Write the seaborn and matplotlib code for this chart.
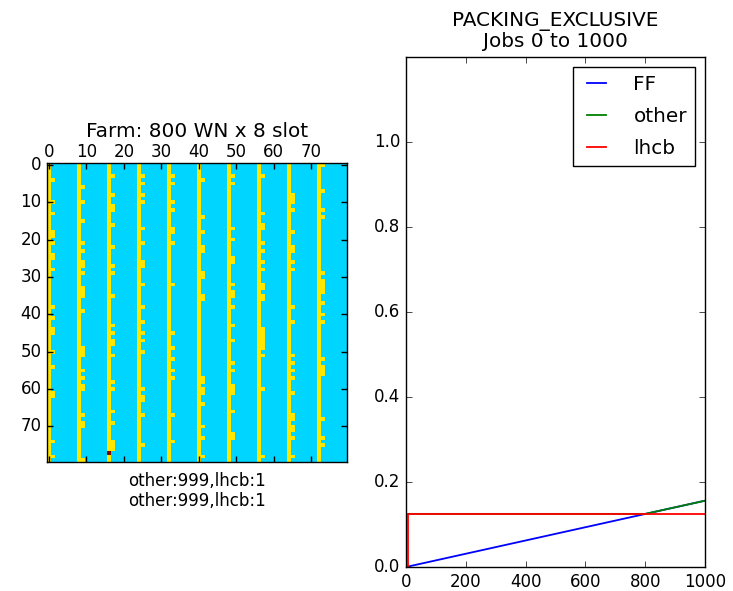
import numpy as np
import pandas as pd
import matplotlib
matplotlib.use("Agg")
import matplotlib.pyplot as plt
import seaborn as sns

# ---------------- data ----------------
n_rows = 80                 # image rows (10 worker nodes per row)
nodes_per_row = 10
slots_per_wn = 8
# codes: 1 = empty slot, 2 = "other" job, 3 = "lhcb" job
EMPTY, OTHER, LHCB = 1, 2, 3

# rows in which the 2nd slot of each node column (0..9) is used by an "other" job
second_slot_rows = [
    [4, 10, 13, 18, 19, 21, 24, 25, 28, 38, 41, 44, 45, 50, 54, 61, 62, 74, 78],
    [6, 10, 15, 21, 23, 26, 27, 29, 33, 34, 35, 39, 49, 50, 51, 55, 57, 59, 60, 67, 69, 70, 79],
    [3, 8, 11, 12, 16, 22, 27, 29, 35, 43, 45, 47, 48, 51, 58, 60, 66, 69, 74, 75, 76],
    [3, 5, 8, 10, 17, 21, 26, 27, 32, 38, 42, 45, 47, 50, 60, 62, 63, 67, 75],
    [3, 5, 10, 12, 17, 18, 21, 32, 45, 49, 52, 55, 57, 67, 74],
    [4, 14, 18, 22, 23, 29, 30, 35, 36, 57, 58, 60, 61, 64, 70, 73, 78],
    [3, 5, 17, 20, 25, 26, 32, 34, 35, 38, 43, 47, 53, 55, 59, 60, 61, 66, 72, 73],
    [3, 13, 16, 17, 21, 23, 26, 28, 32, 33, 35, 36, 44, 45, 46, 47, 48, 49, 51, 60, 78],
    [8, 9, 10, 12, 18, 22, 23, 26, 28, 38, 42, 51, 53, 55, 57, 61, 67, 68, 70, 71, 73, 78],
    [0, 7, 12, 14, 29, 31, 32, 33, 34, 37, 40, 42, 52, 54, 55, 56, 68, 73, 75],
]
lhcb_row, lhcb_col = 77, 16

farm_title = "Farm: 800 WN x 8 slot"
farm_label = "other:999,lhcb:1\nother:999,lhcb:1"
mat_ticks = [0, 10, 20, 30, 40, 50, 60, 70]

# occupancy curves
ff_jobs = [0, 1000]
ff_frac = [0.0, 0.156]
other_jobs = [7, 800, 1000]
other_frac = [0.125, 0.125, 0.156]
lhcb_jobs = [0, 7, 7, 1000]
lhcb_frac = [0.0, 0.0, 0.125, 0.125]

plot_title = "PACKING_EXCLUSIVE\nJobs 0 to 1000"
x_ticks = [0, 200, 400, 600, 800, 1000]
y_ticks = [0.0, 0.2, 0.4, 0.6, 0.8, 1.0]

# ---------------- build matrix ----------------
n_cols = nodes_per_row * slots_per_wn
mat = np.full((n_rows, n_cols), EMPTY, dtype=float)
for g in range(nodes_per_row):
    mat[:, g * slots_per_wn] = OTHER
    for r in second_slot_rows[g]:
        mat[r, g * slots_per_wn + 1] = OTHER
mat[lhcb_row, lhcb_col] = LHCB

# ---------------- style ----------------
plt.style.use("classic")
plt.rcParams.update({
    "figure.facecolor": "white",
    "savefig.facecolor": "white",
    "font.family": ["DejaVu Sans"],
    "font.size": 12,
    "axes.titlesize": "large",
    "legend.fontsize": "large",
})

fig = plt.figure(figsize=(7.33, 5.91), dpi=100)

# ---------------- left: farm matrix ----------------
ax1 = fig.add_axes([47 / 733, 1 - 462 / 591, 300 / 733, 299 / 591])
sns.heatmap(pd.DataFrame(mat), ax=ax1, cmap="jet", vmin=0, vmax=3,
            cbar=False, xticklabels=False, yticklabels=False)
for sp in ax1.spines.values():
    sp.set_visible(True)
    sp.set_color("black")
    sp.set_linewidth(1.0)
ax1.set_xlim(0, n_cols)
ax1.set_ylim(n_rows, 0)
ax1.xaxis.tick_top()
ax1.xaxis.set_ticks_position("both")
ax1.yaxis.set_ticks_position("both")
ax1.set_xticks(np.array(mat_ticks) + 0.5)
ax1.set_xticklabels([str(t) for t in mat_ticks], rotation=0)
ax1.set_yticks(np.array(mat_ticks) + 0.5)
ax1.set_yticklabels([str(t) for t in mat_ticks], rotation=0)
ax1.tick_params(axis="both", direction="in", length=4, width=1, labelsize=12,
                top=True, bottom=True, left=True, right=True,
                labeltop=True, labelbottom=False, labelleft=True, labelright=False)
ax1.tick_params(axis="x", pad=1.5)
ax1.set_title(farm_title, fontsize=14.4, y=1.0, pad=18.5)
ax1.xaxis.set_label_position("bottom")
ax1.set_xlabel(farm_label, fontsize=12, labelpad=7, linespacing=1.15)
ax1.set_ylabel("")

# ---------------- right: occupancy lines ----------------
ax2 = fig.add_axes([406 / 733, 1 - 567 / 591, 299 / 733, 510 / 591])
sns.lineplot(x=ff_jobs, y=ff_frac, ax=ax2, color=(0, 0, 1), lw=1.3,
             estimator=None, sort=False, label="FF")
sns.lineplot(x=other_jobs, y=other_frac, ax=ax2, color=(0, 0.5, 0), lw=1.3,
             estimator=None, sort=False, label="other")
sns.lineplot(x=lhcb_jobs, y=lhcb_frac, ax=ax2, color=(1, 0, 0), lw=1.3,
             estimator=None, sort=False, label="lhcb")
ax2.set_xlim(0, 1000)
ax2.set_ylim(0, 1.2)
ax2.set_xticks(x_ticks)
ax2.set_yticks(y_ticks)
ax2.set_yticklabels([f"{v:.1f}" for v in y_ticks])
ax2.tick_params(axis="both", direction="in", length=4, labelsize=12,
                top=True, right=True)
ax2.set_title(plot_title, fontsize=14.4, linespacing=1.1, pad=7)
ax2.set_xlabel("")
ax2.set_ylabel("")
leg = ax2.legend(loc="upper right", fontsize=14.4, handlelength=1.55,
                 handletextpad=1.05, labelspacing=0.65,
                 fancybox=False, frameon=True)
leg.get_frame().set_edgecolor("black")

fig.savefig("out.png", dpi=100)
